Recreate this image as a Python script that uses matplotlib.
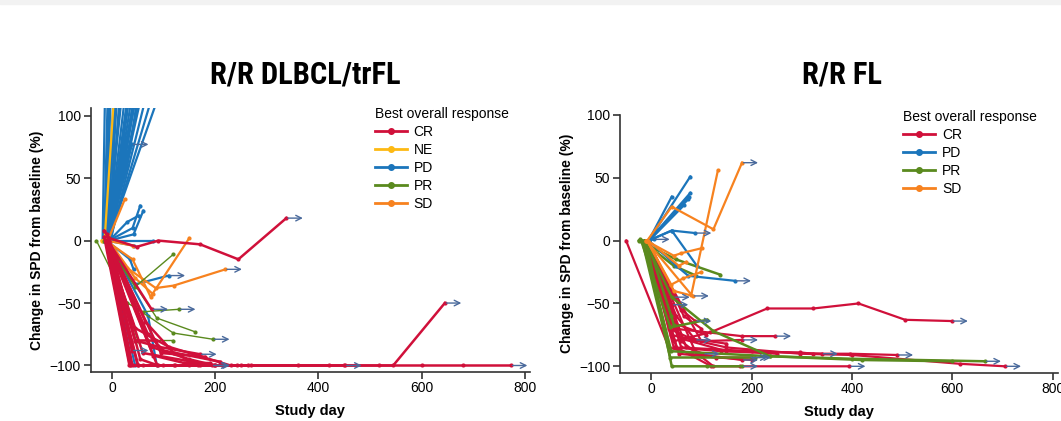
import matplotlib
matplotlib.use("Agg")
import matplotlib.pyplot as plt
from matplotlib.lines import Line2D
from matplotlib.patches import Rectangle
from matplotlib import font_manager

plt.rcParams['font.family'] = ['Liberation Sans', 'DejaVu Sans']

# colours per best overall response
colors = {'CR': '#D0103A', 'NE': '#FDB913', 'PD': '#1B75BB',
          'PR': '#5A8A1E', 'SD': '#F7821F'}
arrow_color = '#4A6A9C'

# ---- R/R DLBCL/trFL : each trajectory is a list of (study day, % change in SPD)
dl_pd = [
    [(-12, 0), (5, 300)], [(-10, 0), (15, 400)], [(-8, 0), (25, 350)],
    [(-10, 0), (30, 280)], [(-6, 0), (35, 300)], [(-5, 0), (40, 260)],
    [(-10, 0), (45, 230)], [(-8, 0), (50, 200)], [(-5, 0), (55, 190)],
    [(-6, 0), (60, 170)], [(-4, 0), (62, 150)], [(-5, 0), (70, 140)],
    [(-3, 0), (75, 130)], [(-5, 0), (85, 125)], [(-8, 0), (90, 115)],
    [(-18, 0), (-10, 200)], [(-15, 0), (0, 250)], [(-14, 0), (10, 300)],
    [(-12, 0), (20, 180)], [(-10, 0), (38, 190)], [(-7, 0), (45, 160)],
    [(-4, 0), (52, 170)], [(-9, 0), (58, 145)], [(-6, 0), (64, 135)],
    [(-2, 0), (48, 120)], [(-5, 0), (42, 110)], [(-10, 0), (20, 55), (45, 120)],
    [(-8, 0), (30, 60), (55, 130)], [(-8, 0), (39, 77)],
    [(-5, 0), (42, 5), (61, 24)], [(-6, 0), (40, 10), (55, 28)],
    [(-5, 0), (30, 15), (52, 20)], [(-15, 0), (80, 0)],
    [(-10, 0), (35, -15), (42, -23)], [(-8, 0), (45, -35), (110, -28)],
    [(-10, 0), (45, -100)], [(-8, 0), (70, -60), (87, -100)],
    [(-10, 0), (42, -4)],
]
dl_pd_arrow = [28, 34]

dl_ne = [[(-20, 0), (-14, 1), (8, 140)]]
dl_ne_arrow = []

dl_sd = [
    [(-12, 0), (40, -15), (75, -45), (150, 2)],
    [(-10, 0), (30, -22), (85, -38), (120, -36), (220, -23)],
    [(-8, 0), (25, 33)],
    [(-10, 0), (40, -4)],
    [(-6, 0), (45, -30), (80, -43)],
]
dl_sd_arrow = [1]

dl_pr = [
    [(-30, 0), (30, -50), (60, -57), (130, -55)],
    [(-15, 0), (45, -37), (119, -11)],
    [(-12, 0), (87, -62), (161, -73)],
    [(-10, 0), (50, -55), (119, -74), (196, -79)],
    [(-10, 0), (50, -80), (119, -80)],
]
dl_pr_arrow = [0, 3]

dl_cr = [
    [(-15, 8), (-5, 2), (48, -5), (90, 0), (171, -3), (245, -15), (338, 18)],
    [(-10, 0), (40, -100), (100, -100), (200, -100), (360, -100), (420, -100), (452, -100)],
    [(-10, 0), (50, -100), (150, -100), (270, -100), (450, -100), (545, -100), (645, -50)],
    [(-12, 0), (35, -100), (120, -100), (250, -100), (517, -100), (600, -100), (680, -100), (773, -100)],
    [(-8, 0), (77, -55)],
    [(-10, 5), (39, -88)],
    [(-10, 0), (45, -80), (90, -85), (171, -91)],
    [(-12, 0), (60, -90), (197, -100)],
    [(-8, 0), (88, -100), (167, -100), (243, -100)],
    [(-10, 0), (51, -100), (123, -100), (264, -100)],
    [(-5, 0), (75, -85), (150, -95), (200, -100)],
    [(-10, 0), (70, -75), (100, -88), (210, -97)],
    [(-15, 3), (34, -100), (194, -100)],
    [(-10, 0), (80, -92), (140, -98), (190, -98)],
    [(-8, 0), (95, -90), (180, -93)],
    [(-12, 0), (45, -70), (110, -85), (230, -100)],
    [(-10, 0), (38, -100), (60, -100)],
    [(-5, 0), (55, -95), (90, -100)],
    [(-12, 0), (45, -80), (85, -80)],
    [(-8, 0), (65, -65), (120, -90), (170, -100)],
]
dl_cr_arrow = [0, 1, 2, 3, 4, 5, 6, 7, 12]

# ---- R/R FL
fl_cr = [
    [(-50, 0), (35, -85), (100, -92), (200, -95)],
    [(-10, 0), (45, -80), (118, -73), (231, -54), (323, -54), (413, -50), (506, -63), (599, -64)],
    [(-10, 0), (45, -70), (181, -76), (247, -76)],
    [(-8, 0), (50, -85), (120, -100), (177, -100), (395, -100)],
    [(-10, 0), (40, -75), (150, -85), (297, -90), (400, -91), (615, -98), (705, -100)],
    [(-12, 0), (45, -85), (140, -88), (297, -89), (323, -90), (396, -90), (490, -91)],
    [(-10, 0), (60, -85), (200, -88), (340, -90)],
    [(-8, 0), (42, -51)],
    [(-10, 0), (45, -45)],
    [(-6, 0), (60, -55), (88, -64)],
    [(-10, 0), (50, -60), (88, -79)],
    [(-10, 0), (100, -80), (181, -79)],
    [(-8, 0), (70, -85), (104, -90)],
    [(-10, 0), (90, -90), (181, -95)],
    [(-5, 0), (60, -80), (124, -100)],
    [(-8, 0), (35, -70), (80, -78), (150, -82)],
    [(-10, 0), (55, -90), (130, -93), (200, -93)],
    [(-12, 0), (40, -65), (110, -75)],
    [(-7, 0), (65, -60), (100, -70)],
    [(-9, 0), (30, -55), (60, -78), (150, -88), (250, -90)],
]
fl_cr_arrow = [1, 2, 3, 4, 5, 6, 7, 8, 9, 10, 11, 12, 13, 16]

fl_pr = [
    [(-25, 0), (50, -15), (137, -27)],
    [(-20, 0), (38, -69), (111, -63)],
    [(-15, 0), (40, -88), (237, -92), (400, -94), (665, -96)],
    [(-10, 0), (41, -100), (111, -100), (181, -100)],
    [(-12, 0), (41, -45), (124, -72), (237, -92), (420, -95), (600, -96)],
    [(-18, 0), (38, -93), (207, -93)],
    [(-8, 0), (40, -60), (45, -67)],
    [(-22, 1), (45, -20), (90, -28)],
]
fl_pr_arrow = [2, 3, 5]

fl_pd = [
    [(-5, 0), (78, 51)], [(-5, 0), (78, 38)], [(-4, 0), (76, 35)],
    [(-6, 0), (74, 33)], [(-5, 0), (41, 35)],
    [(-5, 0), (41, 8), (88, 6)], [(-5, 0), (41, 8), (91, -20)],
    [(-5, 0), (5, 1)], [(-5, 0), (50, -20), (74, -28), (167, -32)],
    [(-4, 0), (65, 28)],
]
fl_pd_arrow = [5, 7, 8]

fl_sd = [
    [(-10, 0), (80, -43), (133, 56)],
    [(-8, 0), (41, 27), (124, 9), (181, 62)],
    [(-10, 0), (45, -12), (60, -10), (101, -6)],
    [(-8, 0), (45, -40), (83, -44)],
    [(-6, 0), (55, -20), (70, -17)],
    [(-8, 0), (40, -35), (64, -30), (100, -25)],
]
fl_sd_arrow = [1, 3]


def draw_group(ax, trajs, arrows, color, lw=1.6):
    for i, t in enumerate(trajs):
        xs = [p[0] for p in t]
        ys = [p[1] for p in t]
        ax.plot(xs, ys, color=color, lw=lw, marker='o', ms=3, mew=0,
                solid_joinstyle='round', clip_on=True)
        if i in arrows:
            ax.annotate('', xy=(xs[-1] + 32, ys[-1]), xytext=(xs[-1] + 3, ys[-1]),
                        arrowprops=dict(arrowstyle='->', color=arrow_color, lw=1.0,
                                        shrinkA=0, shrinkB=0))


def style_axes(ax, xlim, ylim):
    ax.set_xlim(*xlim)
    ax.set_ylim(*ylim)
    ax.spines['top'].set_visible(False)
    ax.spines['right'].set_visible(False)
    for s in ('left', 'bottom'):
        ax.spines[s].set_linewidth(1.2)
        ax.spines[s].set_color('#333333')
    ax.set_xticks([0, 200, 400, 600, 800])
    ax.set_yticks([-100, -50, 0, 50, 100])
    ax.tick_params(labelsize=10, length=5, width=1.2, color='#333333', pad=2)
    ax.set_xlabel('Study day', fontsize=10.5, fontweight='bold', labelpad=6)
    ax.set_ylabel('Change in SPD from baseline (%)', fontsize=10, fontweight='bold', labelpad=4)


# pick a condensed bold family for the titles if one is installed
title_family, title_size, title_stretch = 'DejaVu Sans', 17.5, 'normal'
for fam, size, stretch in [('Liberation Sans Narrow', 22.5, 'condensed'),
                           ('Roboto Condensed', 22, 'condensed'),
                           ('DejaVu Sans', 21, 'condensed')]:
    try:
        fp = font_manager.FontProperties(family=fam, weight='bold', stretch=stretch)
        path = font_manager.findfont(fp, fallback_to_default=False)
        if fam != 'DejaVu Sans' or 'Condensed' in path:
            title_family, title_size, title_stretch = fam, size, stretch
            break
    except Exception:
        pass

fig = plt.figure(figsize=(10.61, 4.21), dpi=100)
fig.patches.append(Rectangle((0, 1 - 4 / 421), 1, 4 / 421, transform=fig.transFigure,
                             color='#f2f2f2', zorder=0))

ax1 = fig.add_axes([0.0855, 0.117, 0.414, 0.626])
draw_group(ax1, dl_pd, dl_pd_arrow, colors['PD'])
draw_group(ax1, dl_ne, dl_ne_arrow, colors['NE'])
draw_group(ax1, dl_sd, dl_sd_arrow, colors['SD'])
draw_group(ax1, dl_pr, dl_pr_arrow, colors['PR'], lw=1.0)
draw_group(ax1, dl_cr, dl_cr_arrow, colors['CR'], lw=1.8)
style_axes(ax1, (-41, 810), (-105, 106))

ax2 = fig.add_axes([0.5844, 0.115, 0.413, 0.612])
draw_group(ax2, fl_cr, fl_cr_arrow, colors['CR'])
draw_group(ax2, fl_pr, fl_pr_arrow, colors['PR'], lw=1.8)
draw_group(ax2, fl_pd, fl_pd_arrow, colors['PD'])
draw_group(ax2, fl_sd, fl_sd_arrow, colors['SD'])
style_axes(ax2, (-62, 811), (-105, 100))


def add_legend(ax, cats, anchor):
    handles = [Line2D([], [], color=colors[c], lw=2, marker='o', ms=4) for c in cats]
    leg = ax.legend(handles, cats, title='Best overall response', loc='upper left',
                    bbox_to_anchor=anchor, frameon=False, fontsize=10,
                    title_fontsize=10, handlelength=2.3, handletextpad=0.5,
                    labelspacing=0.28, borderaxespad=0)
    leg._legend_box.align = 'left'


add_legend(ax1, ['CR', 'NE', 'PD', 'PR', 'SD'], (0.634, 1.025))
add_legend(ax2, ['CR', 'PD', 'PR', 'SD'], (0.634, 1.04))

fig.text(305 / 1061, 1 - 74 / 421, 'R/R DLBCL/trFL', ha='center', va='center',
         fontsize=title_size, fontweight='bold', family=title_family,
         fontstretch=title_stretch)
fig.text(842 / 1061, 1 - 74 / 421, 'R/R FL', ha='center', va='center',
         fontsize=title_size, fontweight='bold', family=title_family,
         fontstretch=title_stretch)

fig.savefig('out.png', dpi=100)
